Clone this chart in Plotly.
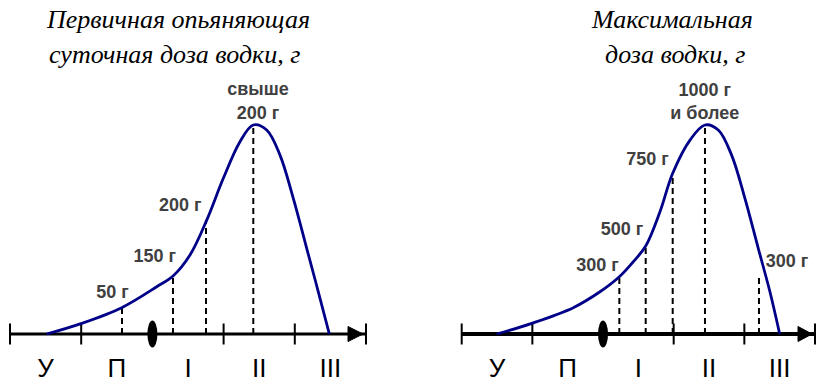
import plotly.graph_objects as go

W, H = 816, 382

# ---------------- data ----------------
stage_labels = ["У", "П", "I", "II", "III"]
stage_centers = [0.5, 1.5, 2.5, 3.5, 4.5]
stage_ticks = [0, 1, 3, 4, 5]
ellipse_pos = 2
axis_start, axis_end = 0, 5

# left panel: primary intoxicating daily dose
left_title = ["Первичная опьяняющая", "суточная доза водки, г"]
left_curve_x = [0.515, 1.007, 1.569, 2.060, 2.294, 2.528, 2.763, 2.996, 3.230, 3.417,
                3.605, 3.792, 3.979, 4.167, 4.330, 4.485]
left_curve_y = [0, 5.1, 12.6, 22.6, 27.9, 37.8, 54.5, 74.5, 92.0, 100,
                97.6, 85.6, 64.9, 41.0, 20.2, 0]
left_dash_x = [1.573, 2.289, 2.753, 3.417]
left_dash_h = [12.6, 27.9, 54.5, 100]
left_labels = ["50 г", "150 г", "200 г", "свыше<br>200 г"]
left_label_x = [1.440, 2.032, 2.392, 3.483]
left_label_y = [19.5, 36.5, 60.9, 110.8]

# right panel: maximal dose
right_title = ["Максимальная", "доза водки, г"]
right_curve_x = [0.495, 0.991, 1.579, 1.957, 2.231, 2.429, 2.604, 2.806, 2.986, 3.231, 3.443,
                 3.631, 3.820, 4.008, 4.197, 4.362, 4.500]
right_curve_y = [0, 5.1, 12.6, 20.2, 27.4, 34.6, 42.1, 58.5, 76.9, 92.8, 100,
                 97.6, 85.6, 64.9, 41.0, 20.2, 0]
right_dash_x = [2.231, 2.604, 2.986, 3.443, 4.207]
right_dash_h = [27.4, 42.1, 76.9, 100, 28.6]
right_labels = ["300 г", "500 г", "750 г", "1000 г<br>и более", "300 г"]
right_label_x = [1.922, 2.269, 2.630, 3.439, 4.604]
right_label_y = [32.2, 49.3, 82.8, 110.4, 34.0]

# ---------------- styling ----------------
CURVE_COLOR = "#000088"
LABEL_COLOR = "#404040"
SANS = "Liberation Sans, Arial, sans-serif"
SERIF = "Liberation Serif, Times New Roman, serif"
Y_PX = 2.09          # pixels per y unit
Y_RANGE = [-48 / Y_PX, 334 / Y_PX]

panels = [
    dict(xref="x", unit=71.2, origin=10, axis_w=3, arrow_len=15,
         cx=left_curve_x, cy=left_curve_y, dx=left_dash_x, dh=left_dash_h,
         lt=left_labels, lx=left_label_x, ly=left_label_y,
         title=left_title, title_x=[178, 174]),
    dict(xref="x2", unit=70.66, origin=461.7, axis_w=4, arrow_len=14,
         cx=right_curve_x, cy=right_curve_y, dx=right_dash_x, dh=right_dash_h,
         lt=right_labels, lx=right_label_x, ly=right_label_y,
         title=right_title, title_x=[672, 675.5]),
]

fig = go.Figure()
shapes = []
annotations = []

for p in panels:
    xa = p["xref"]
    # dashed verticals
    dx, dy = [], []
    for x, h in zip(p["dx"], p["dh"]):
        dx += [x, x, None]
        dy += [0, h, None]
    fig.add_trace(go.Scatter(x=dx, y=dy, xaxis=xa, yaxis="y", mode="lines",
                             line=dict(color="black", width=2, dash="6px,4px"),
                             hoverinfo="skip", showlegend=False, cliponaxis=False))
    # axis line
    fig.add_trace(go.Scatter(x=[axis_start, axis_end], y=[0, 0], xaxis=xa, yaxis="y",
                             mode="lines", line=dict(color="black", width=p["axis_w"]),
                             hoverinfo="skip", showlegend=False, cliponaxis=False))
    # ticks
    fig.add_trace(go.Scatter(x=stage_ticks, y=[0] * len(stage_ticks), xaxis=xa, yaxis="y",
                             mode="markers",
                             marker=dict(symbol="line-ns", size=15,
                                         line=dict(color="black", width=2)),
                             hoverinfo="skip", showlegend=False, cliponaxis=False))
    # arrow head
    tip = axis_end - 3 / p["unit"]
    base = tip - p["arrow_len"] / p["unit"]
    half = 7.5 / Y_PX
    fig.add_trace(go.Scatter(x=[base, tip, base, base], y=[-half, 0, half, -half],
                             xaxis=xa, yaxis="y", mode="lines", fill="toself",
                             fillcolor="black", line=dict(color="black", width=1),
                             hoverinfo="skip", showlegend=False, cliponaxis=False))
    # curve
    fig.add_trace(go.Scatter(x=p["cx"], y=p["cy"], xaxis=xa, yaxis="y", mode="lines",
                             line=dict(color=CURVE_COLOR, width=2.8, shape="spline",
                                       smoothing=1.0),
                             hoverinfo="skip", showlegend=False, cliponaxis=False))
    # dose labels
    fig.add_trace(go.Scatter(x=p["lx"], y=p["ly"], xaxis=xa, yaxis="y", mode="text",
                             text=p["lt"], textposition="middle center",
                             textfont=dict(family=SANS, size=18, color=LABEL_COLOR,
                                           weight="bold"),
                             hoverinfo="skip", showlegend=False, cliponaxis=False))
    # stage labels
    fig.add_trace(go.Scatter(x=stage_centers, y=[-17.7] * 5, xaxis=xa, yaxis="y",
                             mode="text", text=stage_labels, textposition="middle center",
                             textfont=dict(family=SANS, size=26, color="black"),
                             hoverinfo="skip", showlegend=False, cliponaxis=False))
    # ellipse on boundary
    shapes.append(dict(type="circle", xref=xa, yref="y", xsizemode="pixel",
                       ysizemode="pixel", xanchor=ellipse_pos, yanchor=0,
                       x0=-5, x1=5, y0=-13.5, y1=13.5,
                       fillcolor="black", line=dict(color="black", width=0)))
    # titles
    for i, (txt, tx) in enumerate(zip(p["title"], p["title_x"])):
        annotations.append(dict(text=txt, xref="paper", yref="paper",
                                x=tx / W, y=1 - (19.5 + 35 * i) / H,
                                xanchor="center", yanchor="middle", showarrow=False,
                                font=dict(family=SERIF, size=26, color="black",
                                          style="italic")))

fig.update_layout(
    width=W, height=H,
    margin=dict(l=0, r=0, t=0, b=0),
    paper_bgcolor="white", plot_bgcolor="white",
    xaxis=dict(domain=[0, 0.5], range=[-10 / 71.2, 398 / 71.2], visible=False),
    xaxis2=dict(domain=[0.5, 1], range=[(408 - 461.7) / 70.66, (816 - 461.7) / 70.66],
                visible=False, anchor="y"),
    yaxis=dict(domain=[0, 1], range=Y_RANGE, visible=False),
    shapes=shapes,
    annotations=annotations,
    showlegend=False,
)

fig.write_html("out.html", config={"displayModeBar": False},
               post_script="document.body.style.margin='0';document.body.style.overflow='hidden';")
